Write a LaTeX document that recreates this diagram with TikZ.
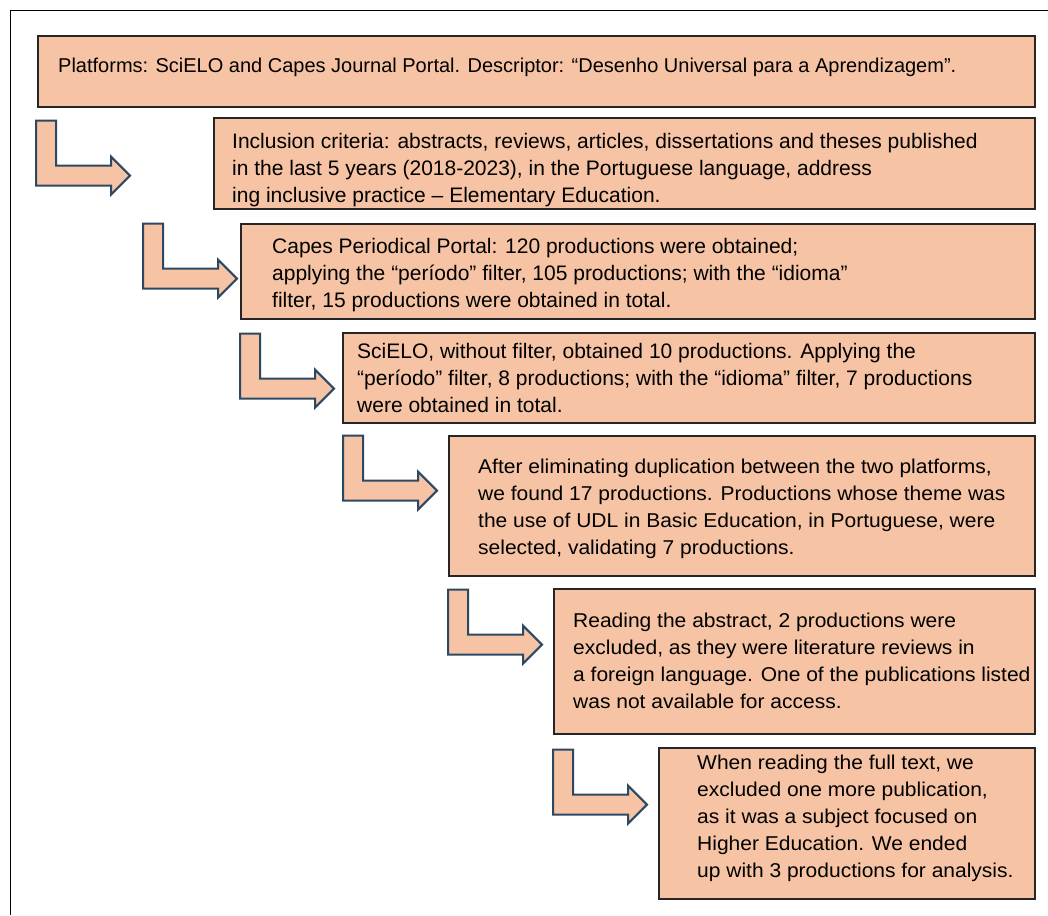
\documentclass[tikz,border=0pt]{standalone}
\usepackage{fontspec}
\setmainfont{Liberation Sans}
\newfontfamily\widerfont{Liberation Sans}[FakeStretch=1.05]
\usepackage{tikz}
\definecolor{boxfill}{RGB}{246,196,164}
\definecolor{arrowline}{RGB}{44,72,98}

\begin{document}
\begin{tikzpicture}[x=1pt,y=-1pt,
    stage/.style={draw=black!85,line width=1.6pt,fill=boxfill,inner sep=0pt,anchor=north west},
    stagetext/.style={anchor=base west,align=left,inner sep=0pt,font=\fontsize{20}{27}\widerfont},
    bentarrow/.pic={\draw[arrowline,line width=2pt,fill=boxfill,line join=miter]
      (0,0)--(20,0)--(20,45)--(75,45)--(75,36)--(94,55)--(75,74)--(75,65)--(0,65)--cycle;}]
  \useasboundingbox (0,0) rectangle (1048,915);
  %\draw[very thin,lightgray,step=50] (0,0) grid (1048,915);
  \draw[line width=0.8pt] (10,915)--(10,10)--(1048,10);

  % the steps, one box under the other
  \node[stage,minimum width=997,minimum height=71] (platforms) at (37,35) {};
  \node[stage,minimum width=821,minimum height=91] (criteria) at (213,117) {};
  \node[stage,minimum width=794,minimum height=95] (capes) at (240,223) {};
  \node[stage,minimum width=692,minimum height=90] (scielo) at (342,332) {};
  \node[stage,minimum width=586,minimum height=140] (duplicates) at (448,435) {};
  \node[stage,minimum width=481,minimum height=145] (abstracts) at (553,588) {};
  \node[stage,minimum width=376,minimum height=151] (fulltext) at (658,747) {};

  % texts sit on the baseline of their last line
  \node[stagetext,font=\fontsize{20}{27}\selectfont] (platformstext) at ([shift={(21,38)}]platforms.north west)
    {Platforms: SciELO and Capes Journal Portal. Descriptor: “Desenho Universal para a Aprendizagem”.};
  \node[stagetext,font=\fontsize{21}{27}\selectfont] (criteriatext) at ([shift={(19,85)}]criteria.north west)
    {Inclusion criteria: abstracts, reviews, articles, dissertations and theses published\\
     in the last 5 years (2018-2023), in the Portuguese language, address\\
     ing inclusive practice – Elementary Education.};
  \node[stagetext,font=\fontsize{21}{27}\selectfont] (capestext) at ([shift={(32,84)}]capes.north west)
    {Capes Periodical Portal: 120 productions were obtained;\\
     applying the “período” filter, 105 productions; with the “idioma”\\
     filter, 15 productions were obtained in total.};
  \node[stagetext,font=\fontsize{21}{27}\selectfont] (scielotext) at ([shift={(15,80)}]scielo.north west)
    {SciELO, without filter, obtained 10 productions. Applying the\\
     “período” filter, 8 productions; with the “idioma” filter, 7 productions\\
     were obtained in total.};
  \node[stagetext] (duplicatestext) at ([shift={(30,119)}]duplicates.north west)
    {After eliminating duplication between the two platforms,\\
     we found 17 productions. Productions whose theme was\\
     the use of UDL in Basic Education, in Portuguese, were\\
     selected, validating 7 productions.};
  \node[stagetext] (abstractstext) at ([shift={(20,120)}]abstracts.north west)
    {Reading the abstract, 2 productions were\\
     excluded, as they were literature reviews in\\
     a foreign language. One of the publications listed\\
     was not available for access.};
  \node[stagetext] (fulltexttext) at ([shift={(39,130)}]fulltext.north west)
    {When reading the full text, we\\
     excluded one more publication,\\
     as it was a subject focused on\\
     Higher Education. We ended\\
     up with 3 productions for analysis.};

  % bent arrows from each step to the next
  \pic at ([shift={(-1,13)}]platforms.south west) {bentarrow};
  \pic at ([shift={(-70,14)}]criteria.south west) {bentarrow};
  \pic at ([shift={(0,14)}]capes.south west) {bentarrow};
  \pic at ([shift={(1,12)}]scielo.south west) {bentarrow};
  \pic at ([shift={(0,13)}]duplicates.south west) {bentarrow};
  \pic at ([shift={(0,15)}]abstracts.south west) {bentarrow};
\end{tikzpicture}
\end{document}
